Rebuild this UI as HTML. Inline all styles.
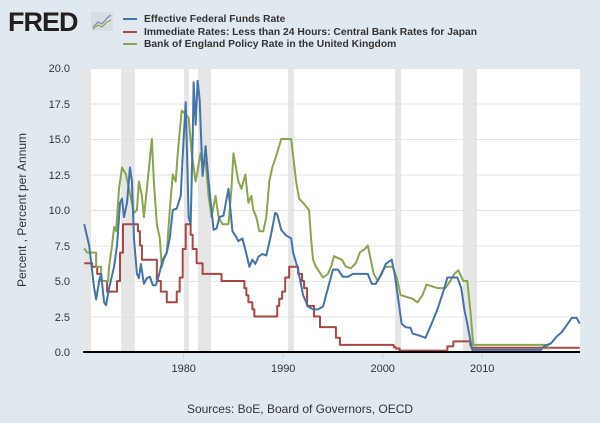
<!DOCTYPE html>
<html><head><meta charset="utf-8"><style>
body{margin:0;background:#e1e9f0;width:600px;height:418px;overflow:hidden;font-family:"Liberation Sans",sans-serif}
</style></head><body>
<svg width="600" height="418" xmlns="http://www.w3.org/2000/svg" font-family="Liberation Sans, sans-serif">
<rect width="600" height="418" fill="#e1e9f0"/>
<text x="8" y="31" font-size="27" font-weight="bold" fill="#231f20" letter-spacing="-1">FRED</text>
<rect x="91" y="12" width="22" height="19" rx="2" fill="#d8dde2"/>
<polyline points="93,27 98,22 102,24 107,18 111,15" fill="none" stroke="#6b8fb8" stroke-width="1.2"/>
<polyline points="93,29 98,25 102,27 107,22 111,20" fill="none" stroke="#89a54e" stroke-width="1.2"/>
<g font-size="10.3" font-weight="bold" fill="#333">
<line x1="123" y1="19" x2="137" y2="19" stroke="#4572a7" stroke-width="2"/><text x="144" y="22">Effective Federal Funds Rate</text>
<line x1="123" y1="32" x2="137" y2="32" stroke="#aa4643" stroke-width="2"/><text x="144" y="35">Immediate Rates: Less than 24 Hours: Central Bank Rates for Japan</text>
<line x1="123" y1="44" x2="137" y2="44" stroke="#89a54e" stroke-width="2"/><text x="144" y="47">Bank of England Policy Rate in the United Kingdom</text>
</g>
<rect x="83" y="68" width="497" height="284" fill="#fff"/>
<g fill="#e6e6e6">
<rect x="83" y="68" width="8" height="284"/><rect x="121" y="68" width="14" height="284"/>
<rect x="184" y="68" width="5" height="284"/><rect x="198" y="68" width="13" height="284"/>
<rect x="288" y="68" width="6" height="284"/><rect x="395" y="68" width="6" height="284"/>
<rect x="463" y="68" width="14" height="284"/>
</g>
<g stroke="#e3e3e3" stroke-width="1">
<line x1="83" x2="580" y1="68.5" y2="68.5"/><line x1="83" x2="580" y1="104" y2="104"/><line x1="83" x2="580" y1="139.5" y2="139.5"/><line x1="83" x2="580" y1="175" y2="175"/><line x1="83" x2="580" y1="210.5" y2="210.5"/><line x1="83" x2="580" y1="246" y2="246"/><line x1="83" x2="580" y1="281.5" y2="281.5"/><line x1="83" x2="580" y1="317" y2="317"/>
</g>
<g font-size="11" fill="#333" text-anchor="end">
<text x="70" y="72">20.0</text><text x="70" y="108">17.5</text><text x="70" y="143">15.0</text><text x="70" y="179">12.5</text><text x="70" y="214">10.0</text><text x="70" y="250">7.5</text><text x="70" y="285">5.0</text><text x="70" y="321">2.5</text><text x="70" y="356">0.0</text>
</g>
<g transform="translate(183.7,352) scale(9.95,-14.2)" fill="none" stroke-width="2" stroke-linejoin="round">
<polyline vector-effect="non-scaling-stroke" stroke="#aa4643" points="-10,6.25 -9.2,6.25 -9.2,6 -8.7,6 -8.7,5.5 -8.3,5.5 -8.3,5 -7.7,5 -7.7,4.25 -6.7,4.25 -6.7,5 -6.4,5 -6.4,7 -6.1,7 -6.1,9 -4.6,9 -4.6,8.5 -4.4,8.5 -4.4,7.5 -4.2,7.5 -4.2,6.5 -2.7,6.5 -2.7,5 -2.3,5 -2.3,4.25 -1.7,4.25 -1.7,3.5 -0.7,3.5 -0.7,4.25 -0.4,4.25 -0.4,5.25 -0.1,5.25 -0.1,7.25 0.2,7.25 0.2,9 0.7,9 0.7,8.25 0.9,8.25 0.9,7.25 1.3,7.25 1.3,6.25 1.9,6.25 1.9,5.5 3.8,5.5 3.8,5 6.1,5 6.1,4.5 6.3,4.5 6.3,4 6.5,4 6.5,3.5 6.9,3.5 6.9,3 7.1,3 7.1,2.5 9.4,2.5 9.4,3.25 9.6,3.25 9.6,3.75 9.9,3.75 9.9,4.25 10.2,4.25 10.2,5.25 10.6,5.25 10.6,6 11.5,6 11.5,5.5 11.9,5.5 11.9,5 12.1,5 12.1,4.5 12.4,4.5 12.4,3.25 13.1,3.25 13.1,2.5 13.7,2.5 13.7,1.75 15.3,1.75 15.3,1 15.7,1 15.7,0.5 21.1,0.5 21.1,0.35 21.3,0.35 21.3,0.25 21.7,0.25 21.7,0.1 26.5,0.1 26.5,0.4 27.1,0.4 27.1,0.75 28.8,0.75 28.8,0.5 28.9,0.5 28.9,0.3 39.8,0.3"/>
<polyline vector-effect="non-scaling-stroke" stroke="#89a54e" points="-10,7.3 -9.7,7 -8.8,7 -8.8,6 -8.3,6 -8.3,5 -7.6,5 -7.5,6 -7.2,7.5 -7,8.8 -6.8,8.5 -6.5,11.5 -6.2,13 -5.8,12.5 -5.5,11.5 -5,9.8 -4.7,10 -4.5,12 -4.2,11 -4,9.5 -3.7,11.5 -3.2,15 -3,12 -2.7,9 -2.4,8 -2.2,6 -2,6.5 -1.7,7 -1.4,10 -1.1,12.5 -0.8,12 -0.6,14 -0.2,17 0.5,16.5 0.8,14 1.2,12 1.7,14 1.9,13 2.2,13.5 2.5,11 2.8,9.5 3.2,11 3.5,9.5 3.9,9 4.5,9 4.8,11.5 5,14 5.5,12 5.8,11.5 6.2,12.5 6.5,10.5 6.8,11 7,10 7.3,9.5 7.6,8.5 8,8.5 8.3,9.5 8.6,12 8.9,13 9.3,13.8 9.8,15 10.8,15 11,13.8 11.3,12 11.6,10.8 12,10.5 12.6,10 12.8,8 13,6.5 13.3,6 14,5.25 14.5,5.5 14.9,6.2 15.1,6.75 15.9,6.5 16.3,6 16.8,5.9 17.3,6.25 17.7,7 18.2,7.25 18.5,7.5 18.8,6.5 19.1,5.5 19.5,5 20,5.75 20.3,6 21,6 21.4,5.25 21.8,4 23,3.75 23.5,3.5 24,4 24.4,4.75 25.5,4.5 26.3,4.5 26.8,5 27.2,5.5 27.6,5.75 28.1,5 28.5,5 28.8,3 29.1,0.5 36.5,0.5 36.7,0.25 36.8,0.25"/>
<polyline vector-effect="non-scaling-stroke" stroke="#4572a7" points="-10,9 -9.5,7.5 -9,4.5 -8.8,3.7 -8.5,5 -8.3,5.5 -8,3.5 -7.8,3.3 -7.5,4.5 -7,6 -6.7,7.5 -6.4,10.5 -6.2,10.8 -6,9.5 -5.7,10.5 -5.4,13 -5.2,12 -5,8 -4.7,5.5 -4.5,5.2 -4.3,6.2 -4,4.8 -3.7,5.2 -3.4,5.3 -3.1,4.7 -2.8,4.7 -2.5,5.4 -2.1,6.5 -1.7,7 -1.4,8 -1.1,10 -0.7,10.1 -0.3,11 -0.1,13.8 0.2,17.6 0.5,9.5 0.7,9 0.9,15 1,19 1.2,16 1.4,19.1 1.6,17.8 1.9,12.4 2.2,14.5 2.5,12 2.8,10 3,8.6 3.3,8.7 3.6,9.5 4,9.6 4.5,11.5 4.9,8.5 5.2,8.2 5.5,7.8 5.9,8 6.3,6.9 6.6,6 6.9,6.5 7.2,6.2 7.5,6.7 7.9,6.9 8.3,6.8 8.7,8 9.2,9.8 9.4,9.7 9.8,8.6 10.3,8.2 10.8,8 11,7 11.5,5.8 12,4 12.5,3.2 13,3 13.5,3 14,3.2 14.5,4.5 15,5.8 15.5,5.8 16,5.3 16.5,5.3 17,5.5 18.5,5.5 18.9,4.8 19.3,4.8 19.9,5.5 20.3,6.2 20.9,6.5 21.2,5.5 21.5,4 21.9,2 22.3,1.75 22.8,1.7 23,1.3 23.5,1.2 24.3,1 24.8,1.8 25.5,3 26.2,4.5 26.5,5.25 27.5,5.25 27.9,4.5 28.2,3 28.5,2 28.9,0.5 29,0.15 35.9,0.15 36.2,0.4 36.9,0.6 37.5,1.1 38,1.4 38.5,1.9 39,2.4 39.5,2.4 39.8,2"/>
</g>
<line x1="83" x2="580" y1="352" y2="352" stroke="#000" stroke-width="2"/>
<g stroke="#c0d0e0"><line x1="183.7" x2="183.7" y1="353" y2="358"/><line x1="283.2" x2="283.2" y1="353" y2="358"/><line x1="382.7" x2="382.7" y1="353" y2="358"/><line x1="482.2" x2="482.2" y1="353" y2="358"/></g>
<g font-size="11" fill="#333" text-anchor="middle">
<text x="183.7" y="372">1980</text><text x="283.2" y="372">1990</text><text x="382.7" y="372">2000</text><text x="482.2" y="372">2010</text>
</g>
<text transform="translate(26,210) rotate(-90)" font-size="12" fill="#333" text-anchor="middle">Percent , Percent per Annum</text>
<text x="300" y="413" font-size="12" fill="#333" text-anchor="middle">Sources: BoE, Board of Governors, OECD</text>
</svg>
</body></html>
